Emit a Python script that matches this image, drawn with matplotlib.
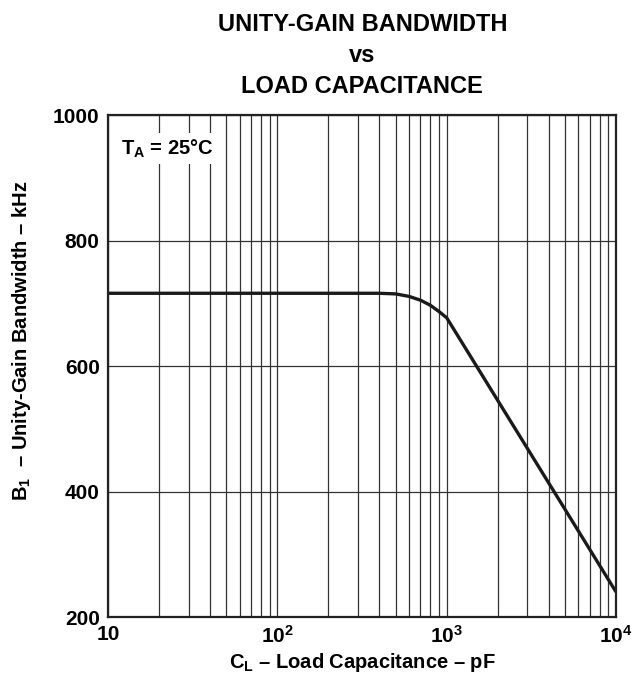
#!/usr/bin/env python3
import matplotlib
matplotlib.use("Agg")
import matplotlib.pyplot as plt
from matplotlib.ticker import LogLocator, NullFormatter

png_outfile = "out.png"

# curve
load_cap_pf = [10, 100, 400, 500, 600, 700, 800, 900, 1000, 10000]
bandwidth_khz = [716, 716, 716, 715, 711, 705, 697, 687, 677, 240]

x_ticks = [10, 100, 1000, 10000]
x_ticklabels = ['10', '10$^{2}$', '10$^{3}$', '10$^{4}$']
y_ticks = [200, 400, 600, 800, 1000]

plt.rcParams['font.family'] = ['Liberation Sans', 'DejaVu Sans']
plt.rcParams['font.weight'] = 'bold'
plt.rcParams['axes.labelweight'] = 'bold'
plt.rcParams['mathtext.fontset'] = 'custom'
plt.rcParams['mathtext.rm'] = 'Liberation Sans:bold'
plt.rcParams['mathtext.it'] = 'Liberation Sans:bold'
plt.rcParams['mathtext.bf'] = 'Liberation Sans:bold'
plt.rcParams['mathtext.default'] = 'rm'

fig = plt.figure(figsize=(6.39, 6.77), dpi=100)
ax = fig.add_axes([0.169, 0.0886, 0.795, 0.7414])

ax.set_xscale('log')
ax.set_xlim(10, 10000)
ax.set_ylim(200, 1000)

ax.set_xticks(x_ticks)
ax.set_xticklabels(x_ticklabels)
ax.xaxis.set_minor_locator(LogLocator(base=10, subs=range(2, 10)))
ax.xaxis.set_minor_formatter(NullFormatter())
ax.set_yticks(y_ticks)
ax.tick_params(which='both', length=0, labelsize=15, pad=6)

ax.grid(True, which='both', axis='x', color='#333333', linewidth=0.9)
ax.grid(True, which='major', axis='y', color='#333333', linewidth=0.9)
ax.set_axisbelow(True)

for s in ax.spines.values():
    s.set_linewidth(1.6)
    s.set_color('#222222')

ax.plot(load_cap_pf, bandwidth_khz, color='#1a1a1a', linewidth=2.4, solid_capstyle='butt')

ax.set_xlabel('C$_{L}$ – Load Capacitance – pF', fontsize=14.5, fontweight='bold')
ax.xaxis.set_label_coords(0.5, -0.068)
ax.set_ylabel('B$_{1}$  – Unity-Gain Bandwidth – kHz', fontsize=14.5, fontweight='bold')
ax.yaxis.set_label_coords(-0.148, 0.55)

ax.text(0.025, 0.955, 'T$_{A}$ = 25°C', transform=ax.transAxes, fontsize=14.5,
        ha='left', va='top',
        bbox=dict(facecolor='white', edgecolor='none', pad=3))

fig.text(0.567, 0.981, 'UNITY-GAIN BANDWIDTH\nvs\nLOAD CAPACITANCE', ha='center', va='top',
         fontsize=17, fontweight='bold', linespacing=1.45)

plt.savefig(png_outfile, dpi=100)
